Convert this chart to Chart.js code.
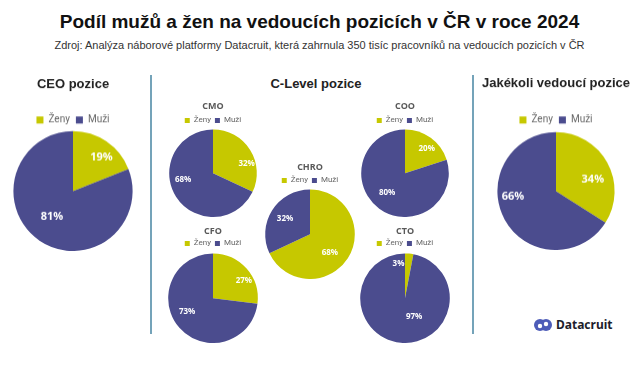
<!DOCTYPE html>
<html>
<head>
<meta charset="utf-8">
<script src="https://cdn.jsdelivr.net/npm/chart.js@4.4.1/dist/chart.umd.min.js"></script>
<style>
  html, body { margin: 0; padding: 0; background: #fff; }
  #wrap { position: relative; width: 639px; height: 365px; overflow: hidden; font-family: "Liberation Sans", Arial, sans-serif; }
  .abs { position: absolute; }
  #title { left: 0; width: 639px; top: 11px; text-align: center; font-size: 19px; font-weight: bold; color: #111; }
  #sub { left: 0; width: 639px; top: 39px; text-align: center; font-size: 11px; color: #333; }
  .sec { font-size: 13px; font-weight: bold; color: #222; text-align: center; }
  .divider { width: 2px; background: #74a3b9; }
  canvas { position: absolute; }
  #logo { left: 534px; top: 316px; display: flex; align-items: center; gap: 4px; font-family: "Noto Sans", sans-serif; font-weight: bold; font-size: 12px; color: #1d1d2b; }
</style>
</head>
<body>
<div id="wrap">
  <div id="title" class="abs">Podíl mužů a žen na vedoucích pozicích v ČR v roce 2024</div>
  <div id="sub" class="abs">Zdroj: Analýza náborové platformy Datacruit, která zahrnula 350 tisíc pracovníků na vedoucích pozicích v ČR</div>
  <div class="abs sec" style="left:216px;width:200px;top:76px;">C-Level pozice</div>
  <div class="abs divider" style="left:150px;top:75px;height:259px;"></div>
  <div class="abs divider" style="left:472px;top:75px;height:259px;"></div>
  <div id="logo" class="abs">
    <svg width="18" height="14" viewBox="0 0 18 14">
      <circle cx="6" cy="7" r="6" fill="#4d5cb8"/>
      <circle cx="12" cy="7" r="6" fill="#4d5cb8"/>
      <circle cx="6" cy="8" r="2.2" fill="#fff"/>
      <circle cx="12" cy="6" r="2.2" fill="#fff"/>
    </svg>
    <span>Datacruit</span>
  </div>
</div>
<script>
const categories = ["Ženy", "Muži"];
const positions = ["CEO pozice", "CMO", "COO", "CHRO", "CFO", "CTO", "Jakékoli vedoucí pozice"];
const zenyShare = [19, 32, 20, 68, 27, 3, 34];
const muziShare = [81, 68, 80, 32, 73, 97, 66];

const colors = ["#c6c800", "#4b4c8e"];

// where each pie sits on the page (title line, legend line, pie top, centre x, radius)
const layouts = [
  { titleY: 85, legendY: 120, pieTop: 131, cx: 73, r: 60, big: true,
    lab: [[0.74, 6], [0.56, 5]] },
  { titleY: 106, legendY: 120, pieTop: 129, cx: 213, r: 44,
    lab: [[0.8, 16], [0.7, 20]] },
  { titleY: 106, legendY: 120, pieTop: 129, cx: 405, r: 44,
    lab: [[0.74, 6], [0.61, 6]] },
  { titleY: 167, legendY: 180, pieTop: 189, cx: 310, r: 45,
    lab: [[0.61, 11], [0.66, 0]] },
  { titleY: 231, legendY: 243, pieTop: 253, cx: 213, r: 45,
    lab: [[0.79, 12], [0.65, 14]] },
  { titleY: 231, legendY: 243, pieTop: 253, cx: 405, r: 45,
    lab: [[0.79, -16], [0.47, -31]] },
  { titleY: 84, legendY: 120, pieTop: 132, cx: 556, r: 59, big: true,
    lab: [[0.66, 11], [0.74, 21]] }
];

// percentage labels inside the slices
const pctLabels = {
  id: "pctLabels",
  afterDatasetsDraw(chart, args, opts) {
    const ctx = chart.ctx;
    const meta = chart.getDatasetMeta(0);
    const values = chart.data.datasets[0].data;
    ctx.save();
    ctx.fillStyle = "#fff";
    ctx.font = "bold " + opts.size + "px 'Open Sans', sans-serif";
    ctx.textAlign = "center";
    ctx.textBaseline = "middle";
    meta.data.forEach((arc, i) => {
      const p = arc.getProps(["x", "y", "startAngle", "endAngle", "outerRadius"], true);
      const a = (p.startAngle + p.endAngle) / 2 + opts.place[i][1] * Math.PI / 180;
      const rr = p.outerRadius * opts.place[i][0];
      ctx.fillText(values[i] + "%", p.x + Math.cos(a) * rr, p.y + Math.sin(a) * rr);
    });
    ctx.restore();
  }
};

const wrap = document.getElementById("wrap");

positions.forEach((name, i) => {
  const L = layouts[i];
  const ts = L.big ? 13 : 9;       // title font size
  const ls = L.big ? 10 : 8;       // legend font size
  const box = L.big ? 7 : 5;
  const pad = L.big ? 6 : 4;
  const y0 = L.titleY - 0.6 * ts;
  const legendTop = L.legendY - pad - ls / 2;
  const titleBottom = legendTop - (y0 + 1.2 * ts);
  const W = L.big ? 180 : 2 * L.r + 20;
  const H = L.pieTop - y0 + 2 * L.r;

  const cv = document.createElement("canvas");
  cv.width = W;
  cv.height = H;
  cv.style.left = (L.cx - W / 2) + "px";
  cv.style.top = y0 + "px";
  cv.style.width = W + "px";
  cv.style.height = H + "px";
  wrap.appendChild(cv);

  new Chart(cv, {
    type: "pie",
    data: {
      labels: categories,
      datasets: [{
        data: [zenyShare[i], muziShare[i]],
        backgroundColor: colors,
        borderWidth: 0
      }]
    },
    options: {
      responsive: false,
      animation: false,
      layout: { padding: 0 },
      plugins: {
        title: {
          display: true,
          text: name,
          color: L.big ? "#222" : "#595959",
          font: { family: L.big ? "'Liberation Sans', Arial, sans-serif" : "'Open Sans', sans-serif", size: ts, weight: "bold", lineHeight: 1.2 },
          padding: { top: 0, bottom: titleBottom }
        },
        legend: {
          position: "top",
          maxHeight: L.pieTop - legendTop,
          labels: {
            boxWidth: box,
            boxHeight: box,
            padding: pad,
            color: "#666",
            font: { family: "Roboto, sans-serif", size: ls }
          }
        },
        tooltip: { enabled: false },
        pctLabels: { size: L.big ? 11 : 8, place: L.lab }
      }
    },
    plugins: [pctLabels]
  });
});
</script>
</body>
</html>
